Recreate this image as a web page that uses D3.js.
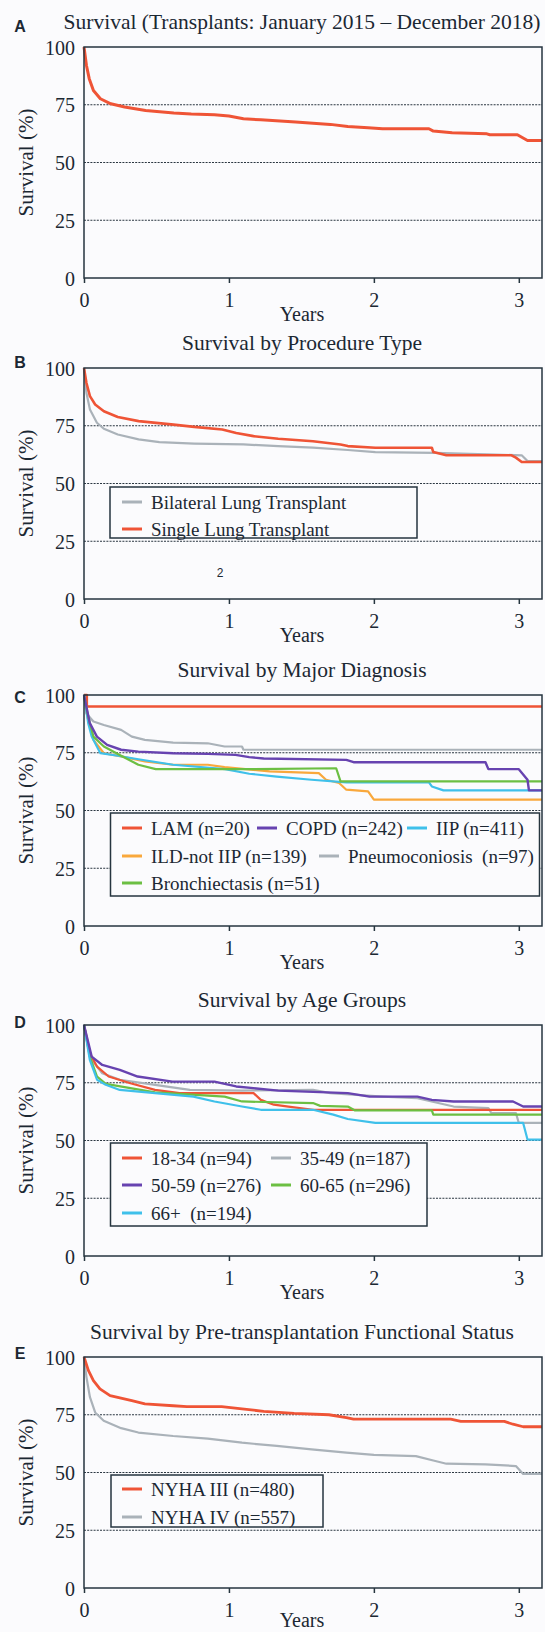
<!DOCTYPE html>
<html><head><meta charset="utf-8">
<script src="https://cdn.jsdelivr.net/npm/d3@7"></script>
<style>
html,body{margin:0;padding:0;background:#fbfbfd;}
svg{display:block;}
text{font-family:"Liberation Serif","Times New Roman",serif;fill:#1c2833;}
</style></head>
<body>
<script>
// ---------- data ----------
const xTicks = [0, 1, 2, 3];
const yTicks = [0, 25, 50, 75, 100];
const gridLevels = [25, 50, 75];
const panelLetters = ["A", "B", "C", "D", "E"];
const panelTitles = [
  "Survival (Transplants: January 2015 \u2013 December 2018)",
  "Survival by Procedure Type",
  "Survival by Major Diagnosis",
  "Survival by Age Groups",
  "Survival by Pre-transplantation Functional Status"
];

// A: overall
const overallA = [[0,100],[0.017,92],[0.036,86.3],[0.065,81.2],[0.113,77.6],[0.185,75.4],[0.28,74],[0.425,72.5],[0.62,71.4],[0.74,71],[0.9,70.7],[1.0,70.1],[1.1,68.9],[1.22,68.5],[1.46,67.5],[1.7,66.5],[1.82,65.6],[1.96,65],[2.06,64.6],[2.38,64.6],[2.41,63.6],[2.54,62.9],[2.78,62.4],[2.8,62],[2.99,62],[3.06,59.5],[3.16,59.5]];

// B: procedure type
const procLabels = ["Bilateral Lung Transplant", "Single Lung Transplant"];
const procBilateral = [[0,100],[0.017,89.2],[0.041,82],[0.089,76.3],[0.137,73.7],[0.233,71.2],[0.377,69.1],[0.52,67.9],[0.76,67.3],[1.1,66.9],[1.34,66.2],[1.58,65.5],[1.82,64.5],[2.01,63.6],[2.42,63.3],[2.54,63],[2.78,62.6],[3.02,62.2],[3.06,59.7],[3.16,59.7]];
const procSingle = [[0,100],[0.017,93.5],[0.041,87.8],[0.077,84.2],[0.137,81.3],[0.233,78.8],[0.377,77],[0.618,75.5],[0.76,74.5],[0.954,73.4],[1.05,71.9],[1.17,70.5],[1.34,69.4],[1.58,68.3],[1.77,66.9],[1.82,66.2],[2.01,65.5],[2.4,65.5],[2.41,63.6],[2.5,62.2],[2.95,62.2],[2.98,61.2],[3.02,59.3],[3.16,59.3]];

// C: major diagnosis
const diagLabels = ["LAM (n=20)", "COPD (n=242)", "IIP (n=411)", "ILD-not IIP (n=139)", "Pneumoconiosis  (n=97)", "Bronchiectasis (n=51)"];
const diagLAM = [[0,100],[0.02,100],[0.02,95],[3.16,95]];
const diagCOPD = [[0,100],[0.04,87.8],[0.089,82],[0.16,78.4],[0.256,76.3],[0.375,75.5],[0.615,74.8],[0.854,74.5],[1.045,74.1],[1.14,73.1],[1.24,72.5],[1.81,71.9],[1.86,70.9],[2.77,70.9],[2.79,67.9],[3.0,67.9],[3.06,63.3],[3.07,58.7],[3.16,58.7]];
const diagIIP = [[0,100],[0.029,87.8],[0.053,82],[0.113,74.8],[0.233,73.7],[0.375,72.2],[0.615,69.8],[0.974,67.9],[1.14,65.9],[1.33,64.7],[1.57,63.3],[1.81,62.2],[2.38,62.2],[2.4,60.4],[2.48,58.7],[3.16,58.7]];
const diagILD = [[0,100],[0.029,89.2],[0.065,80.6],[0.137,74.8],[0.256,73.4],[0.42,71.2],[0.615,69.8],[0.854,69.8],[0.97,68.8],[1.28,66.9],[1.62,66.2],[1.67,63.3],[1.76,61.9],[1.81,59],[1.96,58.3],[2.0,54.7],[3.16,54.7]];
const diagPneumo = [[0,100],[0.017,92],[0.065,88.5],[0.137,87],[0.256,84.9],[0.33,82],[0.42,80.6],[0.615,79.4],[0.854,79.1],[0.97,77.7],[1.09,77.7],[1.1,76.3],[3.16,76.3]];
const diagBronch = [[0,100],[0.029,90.6],[0.065,82],[0.137,77.7],[0.256,73.7],[0.375,69.8],[0.495,67.9],[1.1,67.9],[1.74,68.3],[1.77,62.6],[3.16,62.6]];

// D: age groups
const ageLabels = ["18-34 (n=94)", "35-49 (n=187)", "50-59 (n=276)", "60-65 (n=296)", "66+  (n=194)"];
const age1834 = [[0,100],[0.04,87.8],[0.09,82],[0.17,77.7],[0.32,74.8],[0.49,71.9],[0.66,70.5],[1.17,70.5],[1.22,67.6],[1.31,65.5],[1.41,64.7],[1.58,63.3],[3.16,63.3]];
const age3549 = [[0,100],[0.053,84.9],[0.126,79.1],[0.247,76.3],[0.49,74.1],[0.73,71.9],[1.09,71.6],[1.58,71.9],[1.7,70.5],[2.06,69],[2.3,68.3],[2.55,64.7],[2.79,64],[2.81,61.9],[2.98,61.9],[3.0,57.6],[3.16,57.6]];
const age5059 = [[0,100],[0.053,86.3],[0.126,82.7],[0.247,80.6],[0.37,77.7],[0.61,75.5],[0.9,75.5],[1.05,73.4],[1.34,71.6],[1.82,70.5],[1.97,69],[2.3,69],[2.4,67.6],[2.55,66.9],[2.96,66.9],[3.03,64.7],[3.16,64.7]];
const age6065 = [[0,100],[0.04,86.3],[0.09,77.7],[0.15,74.5],[0.32,72.7],[0.49,70.8],[0.97,69],[1.09,66.9],[1.58,66.2],[1.63,65],[1.82,64.7],[1.87,63],[2.4,63],[2.41,61.2],[3.16,61.2]];
const age66 = [[0,100],[0.04,84.9],[0.09,76.3],[0.15,74.1],[0.247,71.9],[0.49,70.5],[0.755,69],[0.9,66.9],[1.09,64.7],[1.22,63.3],[1.58,63.3],[1.72,61.2],[1.82,59.3],[2.01,57.6],[3.03,57.6],[3.06,50.4],[3.16,50.4]];

// E: functional status
const nyhaLabels = ["NYHA III (n=480)", "NYHA IV (n=557)"];
const nyhaIII = [[0,100],[0.03,94.2],[0.065,89.8],[0.11,86.2],[0.18,83.3],[0.33,81.1],[0.42,79.7],[0.615,78.9],[0.71,78.5],[0.95,78.5],[1.09,77.5],[1.24,76.5],[1.45,75.6],[1.69,75],[1.81,73.8],[1.86,73.1],[2.53,73.1],[2.6,72.1],[2.9,72.1],[2.96,70.9],[3.03,69.8],[3.16,69.8]];
const nyhaIV = [[0,100],[0.017,91.3],[0.041,82.6],[0.077,76],[0.136,72.4],[0.256,69.2],[0.375,67.3],[0.615,65.8],[0.854,64.7],[1.09,62.9],[1.33,61.5],[1.57,60],[1.81,58.6],[2.0,57.6],[2.29,57.1],[2.41,55.2],[2.5,53.8],[2.77,53.5],[2.98,52.8],[3.03,49.4],[3.16,49.4]];

// ---------- styles ----------
const RED = "#ef5436", GRAY = "#aab2b9", PURPLE = "#6743b0", CYAN = "#3fc0ea", ORANGE = "#f9a83c", GREEN = "#6cbf43";
const INK = "#1c2833", FRAME = "#26353f";

const W = 545, H = 1632;
const svg = d3.select("body").append("svg").attr("width", W).attr("height", H);
svg.append("rect").attr("width", W).attr("height", H).attr("fill", "#fbfbfd");

const left = 84, right = 542, plotH = 231;
const x = d3.scaleLinear().domain([0, 3.16]).range([left, right]);

const panels = [
  { top: 47, series: [{d: overallA, c: RED, w: 3}], legend: null, letterDy: -21, yearsDy: 43 },
  { top: 368, series: [{d: procBilateral, c: GRAY, w: 2.2, label: procLabels[0]}, {d: procSingle, c: RED, w: 2.6, label: procLabels[1]}],
    legend: { x0: 110, x1: 417, y0: 119, y1: 170, items: [[122,134],[122,161]] }, letterDy: -6, yearsDy: 43 },
  { top: 695, series: [
      {d: diagPneumo, c: GRAY, w: 2.2, label: diagLabels[4]},
      {d: diagLAM, c: RED, w: 2.4, label: diagLabels[0]},
      {d: diagILD, c: ORANGE, w: 2.2, label: diagLabels[3]},
      {d: diagIIP, c: CYAN, w: 2.2, label: diagLabels[2]},
      {d: diagBronch, c: GREEN, w: 2.2, label: diagLabels[5]},
      {d: diagCOPD, c: PURPLE, w: 2.4, label: diagLabels[1]}],
    legendOrder: [1, 5, 3, 2, 0, 4],
    legend: { x0: 110.5, x1: 539.5, y0: 118, y1: 201, items: [[122,133],[257,133],[407,133],[122,161],[319,161],[122,188]] }, letterDy: 2, yearsDy: 43 },
  { top: 1025, series: [
      {d: age3549, c: GRAY, w: 2.2, label: ageLabels[1]},
      {d: age1834, c: RED, w: 2.2, label: ageLabels[0]},
      {d: age6065, c: GREEN, w: 2.2, label: ageLabels[3]},
      {d: age66, c: CYAN, w: 2.2, label: ageLabels[4]},
      {d: age5059, c: PURPLE, w: 2.4, label: ageLabels[2]}],
    legendOrder: [1, 0, 4, 2, 3],
    legend: { x0: 110.5, x1: 427, y0: 118, y1: 201, items: [[122,133],[271,133],[122,160],[271,160],[122,188]] }, letterDy: -3, yearsDy: 43 },
  { top: 1357, series: [{d: nyhaIV, c: GRAY, w: 2.2, label: nyhaLabels[1]}, {d: nyhaIII, c: RED, w: 2.8, label: nyhaLabels[0]}],
    legendOrder: [1, 0],
    legend: { x0: 111, x1: 323, y0: 118, y1: 170, items: [[122,132],[122,160]] }, letterDy: -4, yearsDy: 39 }
];

panels.forEach((p, i) => {
  const y = d3.scaleLinear().domain([0, 100]).range([p.top + plotH, p.top]);
  const g = svg.append("g");

  // title
  g.append("text").attr("x", 302).attr("y", p.top - 18)
    .attr("text-anchor", "middle").style("font-size", "21.5px").text(panelTitles[i]);
  // panel letter
  g.append("text").attr("x", 20).attr("y", p.top + p.letterDy).attr("dy", "0.35em")
    .attr("text-anchor", "middle")
    .style("font-family", "'Liberation Sans', Arial, sans-serif").style("font-weight", "bold")
    .style("font-size", "16px").text(panelLetters[i]);

  // grid
  g.selectAll(".grid").data(gridLevels).join("line")
    .attr("x1", left).attr("x2", right).attr("y1", d => y(d)).attr("y2", d => y(d))
    .attr("stroke", "#2a3640").attr("stroke-width", 1).attr("stroke-dasharray", "2,1.2");

  // curves
  const line = d3.line().x(d => x(d[0])).y(d => y(d[1]));
  p.series.forEach(s => {
    g.append("path").attr("d", line(s.d)).attr("fill", "none")
      .attr("stroke", s.c).attr("stroke-width", s.w).attr("stroke-linejoin", "round");
  });

  // frame
  g.append("rect").attr("x", left).attr("y", p.top).attr("width", right - left).attr("height", plotH)
    .attr("fill", "none").attr("stroke", FRAME).attr("stroke-width", 1.5);

  // axes
  const xAxis = g.append("g").attr("transform", `translate(0,${p.top + plotH})`)
    .call(d3.axisBottom(x).tickValues(xTicks).tickSize(5).tickPadding(6).tickFormat(d3.format("d")));
  xAxis.select(".domain").remove();
  xAxis.selectAll("line").attr("stroke", FRAME).attr("stroke-width", 1.5);
  xAxis.selectAll("text").style("font-size", "20px").attr("fill", INK)
    .style("font-family", "'Liberation Serif', serif").attr("y", 15);

  const yAxis = g.append("g").attr("transform", `translate(${left},0)`)
    .call(d3.axisLeft(y).tickValues(yTicks).tickSize(0).tickPadding(9));
  yAxis.select(".domain").remove();
  yAxis.selectAll("text").style("font-size", "20px").attr("fill", INK)
    .style("font-family", "'Liberation Serif', serif").attr("dy", "0.35em");

  // axis titles
  g.append("text").attr("transform", `translate(26,${p.top + plotH / 2}) rotate(-90)`)
    .attr("text-anchor", "middle").attr("dy", "0.35em").style("font-size", "21px").text("Survival (%)");
  g.append("text").attr("x", 302).attr("y", p.top + plotH + p.yearsDy)
    .attr("text-anchor", "middle").style("font-size", "20px").text("Years");

  // legend
  if (p.legend) {
    const L = p.legend;
    g.append("rect").attr("x", L.x0).attr("y", p.top + L.y0).attr("width", L.x1 - L.x0).attr("height", L.y1 - L.y0)
      .attr("fill", "#fbfbfd").attr("stroke", FRAME).attr("stroke-width", 1.5);
    const order = p.legendOrder || p.series.map((_, k) => k);
    order.forEach((si, k) => {
      const s = p.series[si];
      const [lx, ly] = L.items[k];
      g.append("line").attr("x1", lx).attr("x2", lx + 20).attr("y1", p.top + ly).attr("y2", p.top + ly)
        .attr("stroke", s.c).attr("stroke-width", 3);
      g.append("text").attr("x", lx + 29).attr("y", p.top + ly).attr("dy", "0.35em")
        .style("font-size", "19px").style("white-space", "pre").text(s.label);
    });
  }
});

// stray label in panel B
svg.append("text").attr("x", 220).attr("y", 573).attr("dy", "0.35em").attr("text-anchor", "middle")
  .style("font-family", "'Liberation Sans', Arial, sans-serif").style("font-size", "12px").text("2");
</script>
</body></html>
